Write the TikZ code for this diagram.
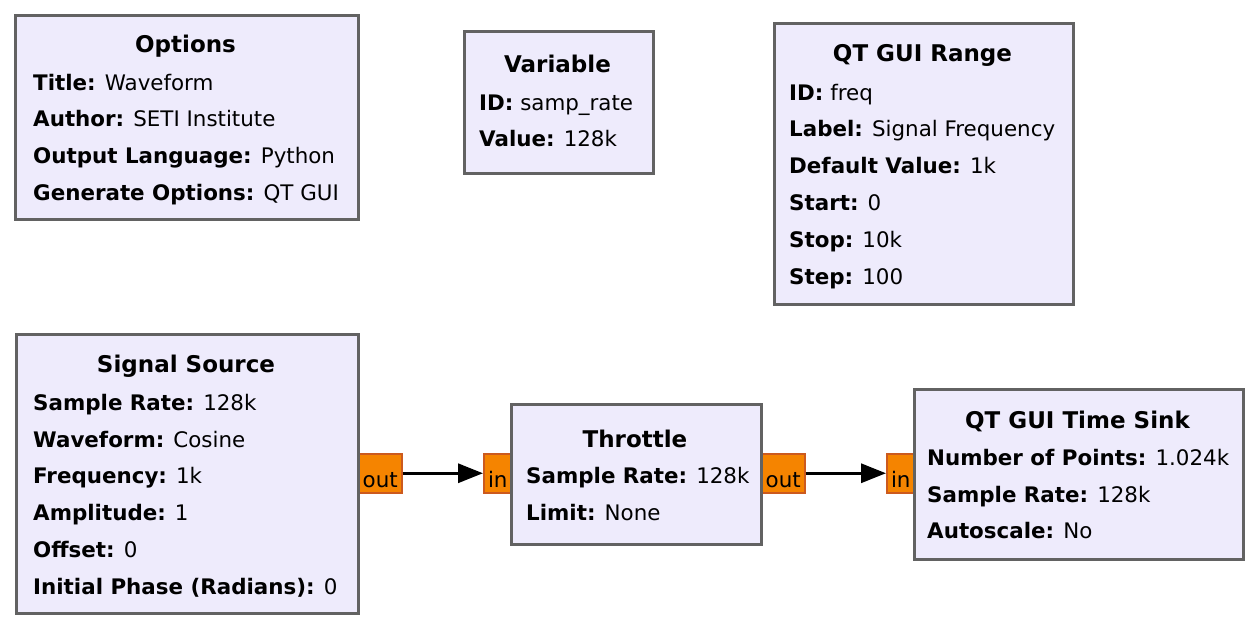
\documentclass[tikz,border=0pt]{standalone}
\usepackage{fontspec}
\setmainfont{DejaVu Sans}
\usepackage{tikz}
\usetikzlibrary{arrows.meta,positioning}
\definecolor{blockfill}{HTML}{EEEBFC}
\definecolor{blockedge}{HTML}{626262}
\definecolor{portfill}{HTML}{F58400}
\definecolor{portedge}{HTML}{CC5A1E}
\newcommand{\blockfont}{\fontsize{21.4}{36.8}\selectfont}
\newcommand{\titlefont}{\fontsize{23}{28}\selectfont\bfseries}
\newcommand{\prm}[2]{\rule{0pt}{18pt}\textbf{#1:} #2}
\tikzset{
  block/.style={draw=blockedge, fill=blockfill, line width=3pt, inner sep=0pt},
  blocktitle/.style={font=\titlefont, anchor=base, inner sep=0pt},
  blockbody/.style={font=\blockfont, align=left, anchor=north west, inner sep=0pt},
  port/.style={draw=portedge, fill=portfill, line width=1.5pt, inner sep=0pt,
    minimum height=39pt, text height=28pt, text depth=0pt, font=\blockfont, anchor=north west},
  wire/.style={black, line width=3.2pt, -{Triangle[length=25pt,width=19pt]}}
}
\begin{document}
\begin{tikzpicture}[x=1pt,y=-1pt]
  \useasboundingbox[fill=white] (0,0) rectangle (1256,628);
  % ports
  \node[port, minimum width=43pt] (srcout) at (358,453) {out};
  \node[port, minimum width=28pt] (thrin) at (483,453) {in};
  \node[port, minimum width=43pt] (throut) at (761,453) {out};
  \node[port, minimum width=28pt] (sinkin) at (886,453) {in};
  % blocks (body text tops sit 18pt above the first baseline)
  \node[block, anchor=north west, minimum width=343pt, minimum height=204pt] (options) at (14,14) {};
  \node[blocktitle] (optionstitle) at (185.5,53) {Options};
  \node[blockbody] (optionsbody) at (33,72) {\prm{Title}{Waveform}\\\prm{Author}{SETI Institute}\\
    \prm{Output Language}{Python}\\\prm{Generate Options}{QT GUI}};

  \node[block, anchor=north west, minimum width=189pt, minimum height=142pt] (variable) at (463,30) {};
  \node[blocktitle] (variabletitle) at (557.5,73) {Variable};
  \node[blockbody] (variablebody) at (479,92) {\prm{ID}{samp\_rate}\\\prm{Value}{128k}};

  \node[block, anchor=north west, minimum width=299pt, minimum height=281pt] (range) at (773,22) {};
  \node[blocktitle] (rangetitle) at (922.5,62) {QT GUI Range};
  \node[blockbody] (rangebody) at (789,82) {\prm{ID}{freq}\\\prm{Label}{Signal Frequency}\\
    \prm{Default Value}{1k}\\\prm{Start}{0}\\\prm{Stop}{10k}\\\prm{Step}{100}};

  \node[block, anchor=north west, minimum width=342pt, minimum height=279pt] (source) at (15,333) {};
  \node[blocktitle] (sourcetitle) at (186,372) {Signal Source};
  \node[blockbody] (sourcebody) at (33,392) {\prm{Sample Rate}{128k}\\\prm{Waveform}{Cosine}\\
    \prm{Frequency}{1k}\\\prm{Amplitude}{1}\\\prm{Offset}{0}\\\prm{Initial Phase (Radians)}{0}};

  \node[block, anchor=north west, minimum width=250pt, minimum height=140pt] (throttle) at (510,403) {};
  \node[blocktitle] (throttletitle) at (635,447) {Throttle};
  \node[blockbody] (throttlebody) at (526,465) {\prm{Sample Rate}{128k}\\\prm{Limit}{None}};

  \node[block, anchor=north west, minimum width=329pt, minimum height=170pt] (sink) at (913,388) {};
  \node[blocktitle] (sinktitle) at (1077.5,428) {QT GUI Time Sink};
  \node[blockbody] (sinkbody) at (927,447) {\prm{Number of Points}{1.024k}\\\prm{Sample Rate}{128k}\\
    \prm{Autoscale}{No}};
  % connections
  \draw[wire] (srcout.east) -- (thrin.west);
  \draw[wire] (throut.east) -- (sinkin.west);
\end{tikzpicture}
\end{document}
